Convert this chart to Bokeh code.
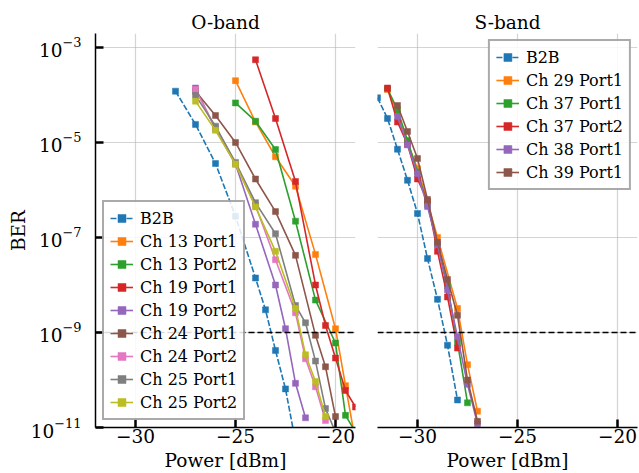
from bokeh.plotting import figure
from bokeh.layouts import row
from bokeh.models import Range1d, FixedTicker, Span
from bokeh.embed import file_html
from bokeh.resources import INLINE

FONT = "DejaVu Serif"

# ---------------- O-band data ----------------
o_b2b_x = [-28, -27, -26, -25, -24, -23.5, -23, -22.5, -22]
o_b2b_y = [1.2e-4, 2.4e-5, 3.6e-6, 2.8e-7, 1.4e-8, 3.0e-9, 4.2e-10, 6.5e-11, 5e-12]

o_ch13p1_x = [-25, -24, -23, -22, -21, -20, -19.5, -19]
o_ch13p1_y = [2.0e-4, 2.7e-5, 5.0e-6, 1.2e-6, 4.4e-8, 1.2e-9, 7.6e-11, 5e-12]

o_ch13p2_x = [-25, -24, -23, -22, -21, -20, -19.5, -19]
o_ch13p2_y = [6.8e-5, 2.8e-5, 7.1e-6, 2.2e-7, 4.8e-9, 6.0e-10, 1.8e-11, 8e-12]

o_ch19p1_x = [-24, -23, -22, -21, -20.5, -20, -19.5, -19]
o_ch19p1_y = [5.5e-4, 3.2e-5, 1.5e-6, 1.0e-8, 1.4e-9, 2.9e-10, 6.0e-11, 2.7e-11]

o_ch19p2_x = [-27, -26, -25, -24, -23, -22.5, -22, -21.5]
o_ch19p2_y = [1.4e-4, 1.9e-5, 3.5e-6, 1.9e-7, 1.0e-8, 1.2e-9, 8.5e-11, 1.6e-11]

o_ch24p1_x = [-27, -26, -25, -24, -23, -22, -21, -20.5, -20]
o_ch24p1_y = [1.2e-4, 3.7e-5, 1.0e-5, 1.7e-6, 3.5e-7, 4.2e-8, 8.7e-10, 1.9e-10, 1.7e-11]

o_ch24p2_x = [-27, -26, -25, -24, -23, -22, -21.5, -21, -20.5]
o_ch24p2_y = [1.3e-4, 2.0e-5, 3.5e-6, 4.7e-7, 3.4e-8, 2.6e-9, 2.8e-10, 7.2e-11, 1.4e-11]

o_ch25p1_x = [-27, -26, -25, -24, -23, -22, -21.5, -21, -20.5, -20]
o_ch25p1_y = [9.8e-5, 2.2e-5, 3.8e-6, 5.4e-7, 1.2e-7, 3.7e-9, 1.6e-9, 2.5e-10, 2.5e-11, 8e-12]

o_ch25p2_x = [-27, -26, -25, -24, -23, -22, -21.5, -21, -20.5]
o_ch25p2_y = [7.4e-5, 1.8e-5, 3.5e-6, 4.4e-7, 5.1e-8, 3.2e-9, 3.4e-10, 9.3e-11, 1.7e-11]

# ---------------- S-band data ----------------
s_b2b_x = [-32, -31.5, -31, -30.5, -30, -29.5, -29, -28.5, -28]
s_b2b_y = [8.7e-5, 3.2e-5, 7.2e-6, 1.6e-6, 3.2e-7, 3.6e-8, 5.0e-9, 5.4e-10, 3.8e-11]

s_ch29p1_x = [-31.5, -31, -30.5, -30, -29.5, -29, -28, -27.5, -27]
s_ch29p1_y = [1.3e-4, 4.2e-5, 1.0e-5, 2.8e-6, 5.6e-7, 1.0e-7, 3.2e-9, 2.1e-10, 2.2e-11]

s_ch37p1_x = [-31.5, -31, -30.5, -30, -29.5, -29, -28.5, -28, -27.5]
s_ch37p1_y = [1.35e-4, 4.9e-5, 1.1e-5, 2.4e-6, 4.9e-7, 7.1e-8, 9.5e-9, 6.2e-10, 3.3e-11]

s_ch37p2_x = [-31.5, -31, -30.5, -30, -29.5, -29, -28.5, -28]
s_ch37p2_y = [1.4e-4, 2.7e-5, 9.1e-6, 1.7e-6, 5.8e-7, 5.1e-8, 5.6e-9, 4.7e-10]

s_ch38p1_x = [-31, -30.5, -30, -29.5, -29, -28.5, -28, -27.5, -27]
s_ch38p1_y = [3.5e-5, 8.9e-6, 2.2e-6, 4.5e-7, 7.1e-8, 7.9e-9, 8.1e-10, 8.1e-11, 1.2e-11]

s_ch39p1_x = [-31, -30.5, -30, -29.5, -29, -28.5, -28, -27.5, -27]
s_ch39p1_y = [6.0e-5, 1.7e-5, 4.6e-6, 6.3e-7, 7.9e-8, 1.3e-8, 2.3e-9, 1.0e-10, 1.35e-11]

fec_threshold = 1e-9
x_ticks = [-30, -25, -20]
x_tick_labels = {-30: "\u221230", -25: "\u221225", -20: "\u221220"}
y_ticks = [1e-11, 1e-9, 1e-7, 1e-5, 1e-3]

C = {"blue": "#1f77b4", "orange": "#ff7f0e", "green": "#2ca02c", "red": "#d62728",
     "purple": "#9467bd", "brown": "#8c564b", "pink": "#e377c2", "gray": "#7f7f7f",
     "olive": "#bcbd22"}

o_series = [
    ("B2B", o_b2b_x, o_b2b_y, C["blue"], True),
    ("Ch 13 Port1", o_ch13p1_x, o_ch13p1_y, C["orange"], False),
    ("Ch 13 Port2", o_ch13p2_x, o_ch13p2_y, C["green"], False),
    ("Ch 19 Port1", o_ch19p1_x, o_ch19p1_y, C["red"], False),
    ("Ch 19 Port2", o_ch19p2_x, o_ch19p2_y, C["purple"], False),
    ("Ch 24 Port1", o_ch24p1_x, o_ch24p1_y, C["brown"], False),
    ("Ch 24 Port2", o_ch24p2_x, o_ch24p2_y, C["pink"], False),
    ("Ch 25 Port1", o_ch25p1_x, o_ch25p1_y, C["gray"], False),
    ("Ch 25 Port2", o_ch25p2_x, o_ch25p2_y, C["olive"], False),
]
s_series = [
    ("B2B", s_b2b_x, s_b2b_y, C["blue"], True),
    ("Ch 29 Port1", s_ch29p1_x, s_ch29p1_y, C["orange"], False),
    ("Ch 37 Port1", s_ch37p1_x, s_ch37p1_y, C["green"], False),
    ("Ch 37 Port2", s_ch37p2_x, s_ch37p2_y, C["red"], False),
    ("Ch 38 Port1", s_ch38p1_x, s_ch38p1_y, C["purple"], False),
    ("Ch 39 Port1", s_ch39p1_x, s_ch39p1_y, C["brown"], False),
]

y_range = Range1d(1e-11, 10 ** -2.707)


def make_fig(title, width, left, right, show_y):
    p = figure(width=width, height=473, x_range=Range1d(-32, -19), y_range=y_range,
               y_axis_type="log", output_backend="svg", toolbar_location=None,
               min_border_left=left, min_border_right=right, min_border_top=33,
               min_border_bottom=45, title=title)
    p.outline_line_color = None
    p.background_fill_color = "white"
    p.title.align = "center"
    p.title.text_font = FONT
    p.title.text_font_size = "18.5px"
    p.title.text_font_style = "normal"
    p.title.standoff = 1
    p.title.text_color = "black"

    xa = p.xaxis[0]
    xa.ticker = FixedTicker(ticks=x_ticks)
    xa.major_label_overrides = x_tick_labels
    xa.axis_label = "Power [dBm]"
    ya = p.yaxis[0]
    ya.ticker = FixedTicker(ticks=y_ticks)
    for ax in (xa, ya):
        ax.axis_line_color = "black"
        ax.axis_line_width = 1.5
        ax.major_tick_in = 8
        ax.major_tick_out = 0
        ax.major_tick_line_width = 2.5
        ax.major_tick_line_color = "black"
        ax.minor_tick_line_color = None
        ax.major_label_text_font = FONT
        ax.major_label_text_font_size = "18.5px"
        ax.major_label_text_color = "black"
        ax.axis_label_text_font = FONT
        ax.axis_label_text_font_size = "18.5px"
        ax.axis_label_text_font_style = "normal"
        ax.axis_label_text_color = "black"
    xa.major_label_standoff = 1
    xa.axis_label_standoff = 4
    ya.major_label_standoff = 14
    ya.axis_label_standoff = -1
    if show_y:
        ya.axis_label = "BER"
    else:
        ya.visible = False

    p.xgrid[0].ticker = FixedTicker(ticks=x_ticks)
    p.ygrid[0].ticker = FixedTicker(ticks=y_ticks)
    for g in (p.xgrid[0], p.ygrid[0]):
        g.grid_line_color = "#b0b0b0"
        g.grid_line_alpha = 0.55
        g.grid_line_width = 1.2
    return p


def add_series(p, series):
    for name, xs, ys, col, dashed in series:
        p.line(xs, ys, line_color=col, line_width=1.6,
               line_dash="6 2" if dashed else "solid", legend_label=name)
        p.scatter(xs, ys, marker="square", size=6, fill_color=col, line_color=col,
                  line_width=0.5, legend_label=name)
    p.add_layout(Span(location=fec_threshold, dimension="width", line_color="black",
                      line_dash="6 3", line_width=1.5))


def style_legend(p, loc, margin):
    lg = p.legend[0]
    lg.location = loc
    lg.margin = margin
    lg.padding = 6
    lg.spacing = 3
    lg.glyph_width = 23
    lg.glyph_height = 20
    lg.label_height = 20
    lg.label_standoff = 7
    lg.label_text_font = FONT
    lg.label_text_font_size = "16px"
    lg.label_text_color = "black"
    lg.border_line_color = "#555555"
    lg.border_line_width = 2
    lg.background_fill_color = "white"
    lg.background_fill_alpha = 0.85


p1 = make_fig("O-band", 365, 95, 10, True)
add_series(p1, o_series)
style_legend(p1, "bottom_left", 7)

p2 = make_fig("S-band", 274, 12, 2, False)
add_series(p2, s_series)
style_legend(p2, "top_right", 6)

layout = row(p1, p2)
open("out.html", "w").write(file_html(layout, INLINE))
